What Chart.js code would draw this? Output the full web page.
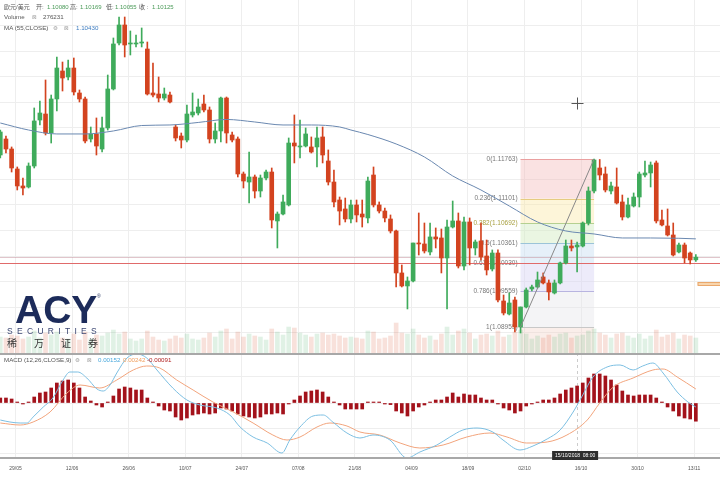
<!DOCTYPE html>
<html><head><meta charset="utf-8">
<script src="https://cdn.jsdelivr.net/npm/chart.js@4.4.0/dist/chart.umd.min.js"></script>
<style>
html,body{margin:0;padding:0;background:#fff;width:720px;height:479px;overflow:hidden;}
#wrap{position:relative;width:720px;height:479px;}
canvas{position:absolute;left:0;}
#main{top:0;}
#macd{top:353px;}
svg{position:absolute;left:0;top:0;pointer-events:none;}
</style></head>
<body><div id="wrap">
<canvas id="main" width="720" height="353" style="width:720px;height:353px"></canvas>
<canvas id="macd" width="720" height="126" style="width:720px;height:126px"></canvas>
<svg width="720" height="479" xmlns="http://www.w3.org/2000/svg" font-family="Liberation Sans, Noto Sans CJK SC, sans-serif">
  <g font-size="6" fill="#555">
    <text x="4" y="9">欧元/美元</text>
    <text x="36" y="9">开:</text><text id="hO" x="47" y="9" fill="#4a9a58"></text>
    <text x="70" y="9">高:</text><text id="hH" x="80" y="9" fill="#4a9a58"></text>
    <text x="106" y="9">低:</text><text id="hL" x="115" y="9" fill="#4a9a58"></text>
    <text x="139" y="9">收 :</text><text id="hC" x="152" y="9" fill="#4a9a58"></text>
  </g>
  <g font-size="6.2" fill="#555">
    <text x="4" y="19">Volume</text><text x="32" y="19" fill="#999" font-family="DejaVu Sans" font-size="5.5">⊠</text><text id="hV" x="43" y="19"></text>
    <text x="4" y="29.5">MA (55,CLOSE)</text><text x="53" y="29.5" fill="#999" font-family="DejaVu Sans" font-size="5.5">⚙</text><text x="64" y="29.5" fill="#999" font-family="DejaVu Sans" font-size="5.5">⊠</text><text id="hMA" x="76" y="29.5" fill="#3d7cc0"></text>
    <text x="4" y="361.5">MACD (12,26,CLOSE,9)</text><text x="75" y="361.5" fill="#999" font-family="DejaVu Sans" font-size="5.5">⚙</text><text x="87" y="361.5" fill="#999" font-family="DejaVu Sans" font-size="5.5">⊠</text>
    <text id="hM1" x="98" y="361.5" fill="#4aa8dc"></text><text id="hM2" x="123" y="361.5" fill="#f0a060"></text><text id="hM3" x="147" y="361.5" fill="#b22222"></text>
  </g>
  <g>
    <text x="15" y="323" font-family="Liberation Sans" font-weight="bold" font-size="39" fill="#1c2b5a">ACY</text>
    <text x="97" y="298" font-size="5" fill="#1c2b5a">®</text>
    <text x="7" y="334" font-size="8.5" letter-spacing="4.3" fill="#3b4672">SECURITIES</text>
    <text x="7" y="347" font-size="10" letter-spacing="17" fill="#333" font-family="Noto Sans CJK SC">稀万证券</text>
  </g>
</svg>
</div>
<script>
// ---------------- DATA ----------------
const open = [
1.11830,1.12097,1.11930,1.11596,1.11313,1.11296,1.11646,1.12414,1.12514,1.12197,
1.12765,1.13232,1.13132,1.13282,1.12865,1.12765,1.12097,1.12181,1.11930,1.12281,
1.12932,1.13699,1.14000,1.13683,1.13683,1.13699,1.13599,1.12865,1.12848,1.12781,
1.12831,1.12297,1.12147,1.12080,1.12498,1.12531,1.12681,1.12581,1.12097,1.12231,
1.12781,1.12164,1.12097,1.11513,1.11379,1.11463,1.11229,1.11446,1.11546,1.10729,
1.10845,1.10996,1.12030,1.11964,1.11980,1.11964,1.11964,1.12131,1.11730,1.11379,
1.11079,1.10929,1.10762,1.10996,1.10845,1.10779,1.11496,1.10996,1.10895,1.10762,
1.10562,1.09861,1.09644,1.09727,1.10361,1.10345,1.10211,1.10462,1.10445,1.10111,
1.10628,1.10729,1.09977,1.10712,1.10278,1.10395,1.10144,1.09927,1.10194,1.09393,
1.09176,1.09410,1.08959,1.09293,1.09594,1.09627,1.09794,1.09694,1.09527,1.09694,
1.10028,1.10311,1.10295,1.10311,1.10695,1.11229,1.11613,1.11513,1.11229,1.11296,
1.11046,1.10795,1.10979,1.11129,1.11496,1.11530,1.11697,1.10745,1.10645,1.10495,
1.10211,1.10328,1.10194,1.10080];
const high = [
1.12247,1.12147,1.11964,1.11630,1.11446,1.11697,1.12615,1.12731,1.13082,1.12831,
1.13466,1.13382,1.13416,1.13449,1.12915,1.12798,1.12297,1.12448,1.12464,1.13165,
1.13783,1.14133,1.14133,1.13900,1.13833,1.13950,1.13716,1.13366,1.13132,1.12948,
1.12882,1.12331,1.12197,1.12665,1.12865,1.12765,1.12831,1.12631,1.12364,1.12798,
1.12798,1.12214,1.12131,1.11546,1.11880,1.11496,1.11496,1.11580,1.11613,1.10879,
1.11162,1.12114,1.12498,1.12414,1.12281,1.12131,1.12297,1.12297,1.11914,1.11580,
1.11129,1.11112,1.11079,1.11079,1.11079,1.11463,1.11630,1.11046,1.10945,1.10829,
1.10578,1.09994,1.09794,1.10361,1.10862,1.10695,1.10695,1.10612,1.10595,1.10745,
1.11062,1.10862,1.10795,1.10779,1.10411,1.10695,1.10411,1.10245,1.10245,1.09493,
1.09527,1.09460,1.09293,1.09610,1.09660,1.09877,1.09861,1.09744,1.09744,1.10044,
1.10411,1.10411,1.10378,1.10712,1.11296,1.11763,1.11755,1.11630,1.11379,1.11613,
1.11162,1.11112,1.11196,1.11546,1.11730,1.11713,1.11730,1.10912,1.10929,1.10695,
1.10361,1.10361,1.10211,1.10169];
const low = [
1.11780,1.11863,1.11546,1.11246,1.11162,1.11279,1.11613,1.12331,1.12164,1.12030,
1.12564,1.12898,1.13082,1.12831,1.12715,1.12030,1.12047,1.11830,1.11880,1.12247,
1.12915,1.13666,1.13466,1.13499,1.13633,1.13633,1.12831,1.12798,1.12715,1.12748,
1.12698,1.12064,1.11947,1.12047,1.12464,1.12498,1.12548,1.12030,1.12030,1.12047,
1.12030,1.12047,1.11463,1.11279,1.11029,1.11112,1.11129,1.11413,1.10612,1.10278,
1.10829,1.10979,1.11697,1.11780,1.11964,1.11863,1.11630,1.11697,1.11329,1.10962,
1.10662,1.10712,1.10695,1.10712,1.10628,1.10695,1.10962,1.10862,1.10712,1.10528,
1.09627,1.09627,1.09260,1.09710,1.10161,1.10194,1.10161,1.10278,1.09861,1.09260,
1.10612,1.09944,1.09911,1.09994,1.10161,1.10078,1.09827,1.09894,1.09377,1.09160,
1.09160,1.08876,1.08859,1.09277,1.09560,1.09610,1.09677,1.09410,1.09510,1.09680,
1.10011,1.10228,1.09877,1.10295,1.10662,1.11196,1.11413,1.11213,1.11179,1.11012,
1.10745,1.10779,1.10962,1.10962,1.11463,1.11296,1.10695,1.10645,1.10478,1.10144,
1.10194,1.10028,1.10011,1.10055];
const close = [
1.12214,1.11930,1.11613,1.11313,1.11279,1.11646,1.12398,1.12531,1.12197,1.12765,
1.13282,1.13115,1.13282,1.12882,1.12765,1.12064,1.12181,1.11980,1.12281,1.12932,
1.13683,1.14000,1.13666,1.13699,1.13699,1.13716,1.12848,1.12831,1.12781,1.12848,
1.12715,1.12114,1.12080,1.12514,1.12548,1.12631,1.12581,1.12097,1.12231,1.12781,
1.12197,1.12080,1.11513,1.11396,1.11463,1.11229,1.11446,1.11546,1.10745,1.10845,
1.11046,1.12030,1.11980,1.11980,1.12181,1.11880,1.12114,1.11830,1.11379,1.11046,
1.10895,1.10762,1.10996,1.10829,1.10795,1.11396,1.10996,1.10895,1.10779,1.10562,
1.09861,1.09644,1.09727,1.10361,1.10345,1.10228,1.10462,1.10428,1.10111,1.10628,
1.10729,1.09977,1.10712,1.10278,1.10378,1.10128,1.09911,1.10194,1.09410,1.09193,
1.09360,1.08959,1.09293,1.09577,1.09627,1.09744,1.09694,1.09544,1.09694,1.10028,
1.10311,1.10278,1.10328,1.10695,1.11229,1.11747,1.11496,1.11246,1.11313,1.11029,
1.10795,1.10996,1.11129,1.11513,1.11530,1.11663,1.10729,1.10662,1.10495,1.10161,
1.10328,1.10111,1.10078,1.10125];
const volume = [
294000,276000,331000,313000,258000,294000,405000,276000,368000,331000,
386000,276000,258000,350000,239000,386000,258000,331000,313000,368000,
423000,350000,386000,258000,221000,258000,405000,294000,239000,221000,
258000,313000,276000,350000,258000,239000,276000,368000,294000,405000,
442000,258000,386000,294000,350000,313000,294000,239000,442000,386000,
331000,478000,460000,368000,331000,294000,350000,368000,331000,350000,
313000,276000,294000,276000,258000,405000,386000,258000,276000,313000,
552000,368000,350000,442000,331000,276000,313000,239000,350000,478000,
331000,405000,442000,368000,258000,331000,350000,313000,405000,294000,
331000,386000,423000,350000,258000,313000,276000,331000,294000,350000,
368000,276000,313000,331000,405000,442000,368000,331000,276000,350000,
368000,313000,276000,350000,258000,313000,423000,294000,331000,368000,
258000,331000,313000,276231];
const maIdx = [0,5,10,15,20,25,30,35,40,45,50,55,60,62,65,70,75,80,85,90,95,100,105,110,115,120,123];
const maVal = [1.12364,1.12247,1.12181,1.12181,1.12231,1.12322,1.12331,1.12373,1.12423,1.12381,1.12331,1.12331,1.12298,1.12247,1.12172,1.12014,1.11797,1.11480,1.11246,1.10979,1.10712,1.10562,1.10512,1.10445,1.10445,1.10440,1.10430];
const hist = [
0.00025,0.00025,0.0002,0.00005,-0.00005,0.00003,0.0003,0.0005,0.00055,0.00075,
0.001,0.0011,0.00115,0.001,0.00075,0.0003,0.0001,-0.0001,-0.0002,0.00003,
0.00035,0.0007,0.0008,0.00075,0.00065,0.00065,0.00025,0.00005,-0.00015,-0.00035,
-0.0004,-0.0007,-0.00085,-0.00075,-0.0006,-0.00055,-0.0005,-0.00055,-0.0005,-0.00025,
-0.0003,-0.0004,-0.00055,-0.00065,-0.0007,-0.00075,-0.0007,-0.00055,-0.00055,-0.0005,
-0.00055,-0.00005,0.00015,0.00035,0.00055,0.0006,0.00065,0.00055,0.0003,0.00005,
-0.0001,-0.0003,-0.0003,-0.0003,-0.0003,0.00003,0.00003,0.00003,-0.00003,-0.00008,
-0.0004,-0.0005,-0.00065,-0.0004,-0.0002,-0.0001,0.00005,0.00015,0.00015,0.0003,
0.0005,0.0003,0.00045,0.0004,0.0004,0.00025,0.00015,0.00015,-0.00005,-0.00025,
-0.00035,-0.0005,-0.0004,-0.00015,-0.00005,0.00005,0.00015,0.00015,0.00025,0.00045,
0.00065,0.00075,0.00085,0.001,0.00125,0.00145,0.00145,0.00135,0.00115,0.0009,
0.0006,0.0004,0.00035,0.0004,0.0004,0.0004,0.00025,0.00003,-0.0002,-0.0004,
-0.00065,-0.00075,-0.0008,-0.00091];
const macdIdx = [0,1.7,3.5,4.7,5.8,7.6,9.3,11.1,12.3,13.7,15.3,17.1,18.2,19.4,20.6,22.4,24.2,25.9,27.7,30.5,33.0,35.3,38.3,40.6,42.4,44.7,47.2,49.8,51.2,53.0,55.3,57.1,58.8,61.3,63.6,65.9,68.9,71.9,74.2,77.2,79.5,81.8,84.3,87.1,88.9,91.9,94.2,96.7,99.0,101.3,103.0,104.8,107.3,109.6,111.9,113.6,115.4,117.2,119.7,121.6,123];
const macdVal = [0.00087,0.00077,0.00072,0.00072,0.00102,0.00152,0.00197,0.00287,0.00327,0.00327,0.00297,0.00242,0.00232,0.00262,0.00322,0.00397,0.00417,0.00397,0.00337,0.00247,0.00187,0.00162,0.00147,0.00112,0.00052,0.00002,-0.00028,-0.00078,-0.00013,0.00052,0.00107,0.00112,0.00077,0.00022,-0.00003,0.00012,-0.00013,-0.00103,-0.00073,-0.00038,0.00002,0.00037,0.00047,0.00027,-0.00013,-0.00063,-0.00043,-0.00008,0.00037,0.00127,0.00212,0.00302,0.00352,0.00362,0.00337,0.00357,0.00372,0.00322,0.00227,0.00177,0.00152];
const sigIdx = [0,3.5,5.8,8.8,11.8,14.1,17.6,20.6,23.5,25.9,28.2,31.2,34.1,37.6,41.2,44.7,48.2,50.7,53.0,56.0,58.3,61.3,63.6,67.1,70.7,74.2,78.3,82.5,86.6,89.6,93.1,96.7,100.2,103.8,106.0,108.4,111.9,115.4,117.2,119.7,123];
const sigVal = [0.00072,0.00062,0.00077,0.00127,0.00222,0.00262,0.00247,0.00287,0.00337,0.00357,0.00347,0.00287,0.00237,0.00177,0.00127,0.00072,0.00012,-0.00013,0.00002,0.00052,0.00072,0.00057,0.00027,0.00012,-0.00028,-0.00053,-0.00038,0.00002,0.00022,0.00002,-0.00028,-0.00023,0.00012,0.00087,0.00172,0.00252,0.00297,0.00337,0.00342,0.00302,0.00242];
const tickPos = [2.7,12.7,22.7,32.7,42.7,52.7,62.7,72.7,82.7,92.7,102.7,112.7,122.7];
const tickLabels = ['29/05','12/06','26/06','10/07','24/07','07/08','21/08','04/09','18/09','02/10','16/10','30/10','13/11'];
const priceGrid = [1.13990,1.13562,1.13135,1.12708,1.12281,1.11853,1.11426,1.10999,1.10571,1.10144,1.09717,1.09289,1.08862];
const macdGrid = [0.0013,0,-0.00125,-0.0025];
const fibRatios = ['0','0.236','0.382','0.5','0.618','0.786','1'];
const fibPrices = [1.11763,1.11101,1.10692,1.10361,1.10030,1.09559,1.08959];
const fibStart = 92, fibEnd = 105;
const hLinePrice = 1.10030;
const crossIdx = 102, crossPrice = 1.12698;
const crossLabel = '15/10/2018  08:00';

// ---------------- STYLE / LAYOUT ----------------
const xMin = -0.053, xMax = 127.27;
const UP = '#3fab5b', DN = '#d3431f';
const fibFill = ['rgba(244,185,185,0.42)','rgba(250,232,165,0.42)','rgba(208,234,190,0.45)','rgba(200,222,242,0.45)','rgba(214,210,245,0.45)','rgba(228,228,232,0.4)'];
const fibLine = ['#eaa0a0','#e6cc80','#b5d090','#9cc4d8','#aab0e2','#b8b4e0','#c8c8c8'];
const fibText = ['#777','#777','#a8a040','#777','#777','#777','#777'];
Chart.defaults.font.family = '"Liberation Sans","Noto Sans CJK SC",sans-serif';

const n = open.length;
const idx = open.map((_, i) => i);
const isUp = i => close[i] >= open[i];
const last = n - 1;

document.getElementById('hO').textContent = open[last].toFixed(5);
document.getElementById('hH').textContent = high[last].toFixed(5);
document.getElementById('hL').textContent = low[last].toFixed(5);
document.getElementById('hC').textContent = close[last].toFixed(5);
document.getElementById('hV').textContent = String(volume[last]);
document.getElementById('hMA').textContent = maVal[maVal.length-1].toFixed(5);
document.getElementById('hM1').textContent = macdVal[macdVal.length-1].toFixed(5);
document.getElementById('hM2').textContent = sigVal[sigVal.length-1].toFixed(5);
document.getElementById('hM3').textContent = hist[last].toFixed(5);

const fibPlugin = {
  id: 'fib',
  beforeDatasetsDraw(chart) {
    const {ctx, chartArea, scales: {x, y}} = chart;
    const x0 = x.getPixelForValue(fibStart), x1 = x.getPixelForValue(fibEnd);
    ctx.save();
    for (let k = 0; k < fibPrices.length - 1; k++) {
      const ya = y.getPixelForValue(fibPrices[k]), yb = y.getPixelForValue(fibPrices[k+1]);
      ctx.fillStyle = fibFill[k];
      ctx.fillRect(x0, ya, x1 - x0, yb - ya);
    }
    const yL = y.getPixelForValue(fibPrices[fibPrices.length-1]);
    ctx.fillStyle = 'rgba(240,205,195,0.35)';
    ctx.fillRect(x0, yL, x1 - x0, chartArea.bottom - yL);
    ctx.lineWidth = 1;
    fibPrices.forEach((p, k) => {
      const yy = Math.round(y.getPixelForValue(p)) + 0.5;
      ctx.strokeStyle = fibLine[k];
      ctx.beginPath(); ctx.moveTo(x0, yy); ctx.lineTo(x1, yy); ctx.stroke();
    });
    // labels (under candles)
    ctx.font = '6.5px "Liberation Sans"';
    ctx.textAlign = 'right'; ctx.textBaseline = 'middle';
    fibPrices.forEach((p, k) => {
      ctx.fillStyle = fibText[k];
      ctx.fillText(fibRatios[k] + '(' + p.toFixed(5) + ')', x0 - 3, y.getPixelForValue(p));
    });
    // horizontal price lines
    const yc = Math.round(y.getPixelForValue(close[last])) + 0.5;
    ctx.strokeStyle = 'rgba(200,150,160,0.55)';
    ctx.beginPath(); ctx.moveTo(chartArea.left, yc); ctx.lineTo(chartArea.right, yc); ctx.stroke();
    const yh = Math.round(y.getPixelForValue(hLinePrice)) + 0.5;
    ctx.strokeStyle = '#e06a6a';
    ctx.beginPath(); ctx.moveTo(chartArea.left, yh); ctx.lineTo(chartArea.right, yh); ctx.stroke();
    ctx.restore();
  },
  afterDatasetsDraw(chart) {
    const {ctx, chartArea, scales: {x, y}} = chart;
    ctx.save();
    // small orange price marker at right edge
    const rx = x.getPixelForValue(last + 0.3);
    const ry0 = y.getPixelForValue(1.09710), ry1 = y.getPixelForValue(1.09660);
    ctx.fillStyle = '#f8d5ad'; ctx.strokeStyle = '#eaa86c'; ctx.lineWidth = 1;
    ctx.fillRect(rx, ry0, chartArea.right - rx, ry1 - ry0);
    ctx.strokeRect(rx + 0.5, ry0 + 0.5, chartArea.right - rx, ry1 - ry0);
    // crosshair plus
    const cx = Math.round(x.getPixelForValue(crossIdx)) + 0.5, cy = Math.round(y.getPixelForValue(crossPrice)) + 0.5;
    ctx.strokeStyle = '#555';
    ctx.beginPath(); ctx.moveTo(cx - 6, cy); ctx.lineTo(cx + 6, cy); ctx.moveTo(cx, cy - 6); ctx.lineTo(cx, cy + 6); ctx.stroke();
    ctx.restore();
  }
};

const hiddenY = { ticks: { display: false }, border: { display: false }, grid: { drawTicks: false, color: '#eeeeee' }, afterFit: s => { s.width = 0; } };

new Chart(document.getElementById('main'), {
  type: 'bar',
  data: { datasets: [
    { type: 'line', data: maIdx.map((v, k) => ({x: v, y: maVal[k]})), borderColor: '#6a88b0', borderWidth: 1, pointRadius: 0, cubicInterpolationMode: 'monotone', yAxisID: 'y', order: 0 },
    { type: 'line', data: [{x: fibStart, y: fibPrices[6]}, {x: fibEnd, y: fibPrices[0]}], borderColor: '#888', borderWidth: 1, pointRadius: 0, yAxisID: 'y', order: 1 },
    { data: idx.map(i => ({x: i, y: [open[i], close[i]]})), backgroundColor: c => isUp(c.dataIndex) ? UP : DN, barThickness: 4, minBarLength: 1, grouped: false, yAxisID: 'y', order: 2 },
    { data: idx.map(i => ({x: i, y: [low[i], high[i]]})), backgroundColor: c => isUp(c.dataIndex) ? UP : DN, barThickness: 1, grouped: false, yAxisID: 'y', order: 3 },
    { data: idx.map(i => ({x: i, y: volume[i]})), backgroundColor: c => isUp(c.dataIndex) ? 'rgba(63,171,91,0.16)' : 'rgba(211,67,31,0.16)', barThickness: 4, grouped: false, yAxisID: 'yv', order: 4 }
  ]},
  options: {
    responsive: false, animation: false, layout: { padding: 0 },
    plugins: { legend: { display: false }, tooltip: { enabled: false } },
    scales: {
      x: { type: 'linear', min: xMin, max: xMax, offset: false,
           afterBuildTicks: s => { s.ticks = tickPos.map(v => ({value: v})); },
           ticks: { display: false }, border: { display: false },
           grid: { drawTicks: false, color: '#eeeeee', offset: false },
           afterFit: s => { s.height = 0; } },
      y: Object.assign({ type: 'linear', position: 'left', min: 1.08525, max: 1.14417,
           afterBuildTicks: s => { s.ticks = priceGrid.map(v => ({value: v})); } }, hiddenY),
      yv: { type: 'linear', display: false, min: 0, max: 6500000 }
    }
  },
  plugins: [fibPlugin]
});

const macdDeco = {
  id: 'macdDeco',
  beforeDatasetsDraw(chart) {
    const {ctx, chartArea, scales: {x}} = chart;
    const cx = Math.round(x.getPixelForValue(crossIdx)) + 0.5;
    ctx.save();
    ctx.strokeStyle = 'rgba(170,170,170,0.6)'; ctx.setLineDash([3,3]); ctx.lineWidth = 1;
    ctx.beginPath(); ctx.moveTo(cx, chartArea.top); ctx.lineTo(cx, chartArea.bottom); ctx.stroke();
    ctx.restore();
  },
  afterDraw(chart) {
    const {ctx, chartArea, scales: {x}} = chart;
    ctx.save();
    ctx.fillStyle = '#a8a8a8';
    ctx.fillRect(0, 0, chart.width, 2);
    ctx.fillRect(0, chartArea.bottom - 1, chart.width, 2);
    const cx = x.getPixelForValue(crossIdx) - 2;
    ctx.fillStyle = '#2e2e2e';
    ctx.fillRect(cx - 23, chartArea.bottom - 7, 46, 9);
    ctx.fillStyle = '#fff'; ctx.font = '5px "Liberation Sans"';
    ctx.textAlign = 'center'; ctx.textBaseline = 'middle';
    ctx.fillText(crossLabel, cx, chartArea.bottom - 2.5);
    ctx.restore();
  }
};

new Chart(document.getElementById('macd'), {
  type: 'bar',
  data: { datasets: [
    { type: 'line', data: macdIdx.map((v, k) => ({x: v, y: macdVal[k]})), borderColor: '#7cbfe2', borderWidth: 1, pointRadius: 0, cubicInterpolationMode: 'monotone', yAxisID: 'yl', order: 0 },
    { type: 'line', data: sigIdx.map((v, k) => ({x: v, y: sigVal[k]})), borderColor: '#f2a47c', borderWidth: 1, pointRadius: 0, cubicInterpolationMode: 'monotone', yAxisID: 'yl', order: 1 },
    { data: idx.map(i => ({x: i, y: hist[i]})), backgroundColor: '#a3121b', barThickness: 3, minBarLength: 1, grouped: false, yAxisID: 'yh', order: 2 }
  ]},
  options: {
    responsive: false, animation: false, layout: { padding: 0 },
    plugins: { legend: { display: false }, tooltip: { enabled: false } },
    scales: {
      x: { type: 'linear', min: xMin, max: xMax, offset: false,
           afterBuildTicks: s => { s.ticks = tickPos.map(v => ({value: v})); },
           ticks: { autoSkip: false, maxRotation: 0, padding: 8, color: '#555', font: { size: 5 }, callback: (v, i) => tickLabels[i] },
           border: { display: false }, grid: { drawTicks: false, color: '#eeeeee', offset: false },
           afterFit: s => { s.height = 21; } },
      yh: Object.assign({ type: 'linear', position: 'left', min: -0.00275, max: 0.0025,
           afterBuildTicks: s => { s.ticks = macdGrid.map(v => ({value: v})); } }, hiddenY),
      yl: { type: 'linear', display: false, min: -0.00103, max: 0.00422 }
    }
  },
  plugins: [macdDeco]
});
</script>
</body></html>
